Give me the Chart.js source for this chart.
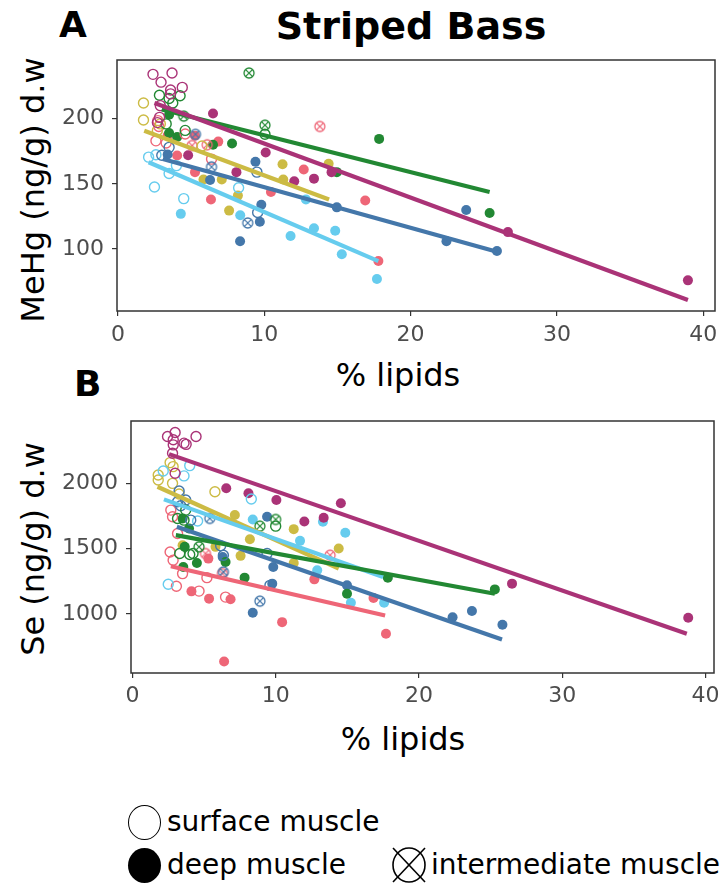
<!DOCTYPE html>
<html><head><meta charset="utf-8">
<script src="https://cdn.jsdelivr.net/npm/chart.js@4/dist/chart.umd.min.js"></script>
<style>
html,body{margin:0;padding:0;background:#fff;}
body{width:724px;height:886px;position:relative;overflow:hidden;font-family:"DejaVu Sans",Verdana,sans-serif;}
.t{position:absolute;white-space:nowrap;color:#000;line-height:1;}
.c{transform:translate(-50%,-50%);}
.r{transform:translate(-50%,-50%) rotate(-90deg);}
canvas{position:absolute;left:0;}
</style></head><body>

<div class="t" style="left:211px;width:400px;text-align:center;top:7px;font-size:38px;font-weight:bold;">Striped Bass</div>
<div class="t" style="left:59px;top:7px;font-size:36px;font-weight:bold;">A</div>
<div class="t" style="left:74px;top:366px;font-size:36px;font-weight:bold;">B</div>

<div class="t r" style="left:33px;top:190px;font-size:32px;">MeHg (ng/g) d.w</div>
<div class="t c" style="left:398px;top:375px;font-size:32px;">% lipids</div>
<div class="t r" style="left:33px;top:549px;font-size:32px;">Se (ng/g) d.w</div>
<div class="t c" style="left:403px;top:739px;font-size:32px;">% lipids</div>

<canvas id="chartA" width="724" height="300" style="top:50px;"></canvas>
<canvas id="chartB" width="724" height="300" style="top:410px;"></canvas>

<!-- legend -->
<div style="position:absolute;left:128px;top:805px;width:33px;height:35px;border:1.6px solid #000;border-radius:50%;box-sizing:border-box;"></div>
<div class="t" style="left:167px;top:822px;transform:translateY(-50%);font-size:28px;">surface muscle</div>
<div style="position:absolute;left:128px;top:848px;width:33px;height:35px;background:#000;border-radius:50%;"></div>
<div class="t" style="left:167px;top:865px;transform:translateY(-50%);font-size:28px;">deep muscle</div>
<svg style="position:absolute;left:389px;top:846px;" width="40" height="38" viewBox="0 0 40 38">
  <ellipse cx="20" cy="19" rx="16" ry="17" fill="none" stroke="#000" stroke-width="1.6"/>
  <line x1="4" y1="2" x2="36" y2="36" stroke="#000" stroke-width="1.6"/>
  <line x1="36" y1="2" x2="4" y2="36" stroke="#000" stroke-width="1.6"/>
</svg>
<div class="t" style="left:431px;top:865px;transform:translateY(-50%);font-size:28px;">intermediate muscle</div>

<script>
// ---------------- DATA ----------------
const xTicks = [0, 10, 20, 30, 40];
const mehgTicks = [100, 150, 200];
const seTicks = [1000, 1500, 2000];

// Panel A: MeHg (ng/g d.w) vs % lipids  — [lipids, value]
const mehgPurpleSurface = [[2.4,234],[3.7,235],[2.95,228],[4.4,224],[3.6,222],[3.6,219],[2.9,210],[2.85,201],[2.7,197]];
const mehgPurpleDeep = [[6.5,204],[10.1,174],[8.1,159],[12.05,152],[13.4,154],[14.6,159],[4.8,172],[26.65,113],[38.95,76]];
const mehgPurpleInter = [];
const mehgGreenSurface = [[2.84,218],[3.5,215.5],[4.25,217.6],[3.75,212],[3.3,196],[4.6,191],[10.05,188]];
const mehgGreenDeep = [[3.5,203],[3.5,189],[4.05,186],[6.5,180],[7.8,181],[14.96,159],[17.85,184.5],[25.4,127.7]];
const mehgGreenInter = [[4.5,202],[8.96,235],[10.05,195]];
const mehgBlueSurface = [[9.5,159],[9.55,128],[3.5,178],[3.0,172]];
const mehgBlueDeep = [[3.4,172.5],[9.4,167],[6.3,153],[9.8,134],[9.7,121],[8.35,106],[14.96,132],[23.8,130],[22.45,106],[25.9,98.5]];
const mehgBlueInter = [[5.3,188],[6.4,163],[8.87,120]];
const mehgCyanSurface = [[2.1,170.5],[2.6,172.3],[2.5,147.6],[4.5,138.7],[3.5,158],[4.0,164],[8.25,147]];
const mehgCyanDeep = [[4.3,127],[8.36,126],[11.8,110],[13.4,116],[14.85,114],[15.3,96],[17.7,77],[12.85,138]];
const mehgCyanInter = [];
const mehgYellowSurface = [[1.75,212],[1.75,199],[2.7,191],[2.9,196],[5.75,179]];
const mehgYellowDeep = [[11.25,165],[11.3,153.4],[14.4,165.4],[7.1,153.4],[5.85,153.4],[7.6,129.5],[8.2,141]];
const mehgYellowInter = [];
const mehgRedSurface = [[2.6,183],[2.73,198.5],[2.8,194],[3.3,181.4],[4.6,188.3],[6.4,169]];
const mehgRedDeep = [[5.27,187],[6.86,182.4],[4.05,171.8],[5.27,159],[12.7,161],[10.46,143.7],[6.36,138],[16.9,137.2],[17.8,90.8],[3.4,187]];
const mehgRedInter = [[5.07,179.4],[6.1,180],[13.8,194]];

// Panel A fitted lines (end points)
const mehgFitPurple = [[2.5,212],[38.95,61]];
const mehgFitGreen = [[3.0,207],[25.4,143.7]];
const mehgFitBlue = [[3.07,169],[25.9,98]];
const mehgFitCyan = [[2.1,166.6],[17.8,90.8]];
const mehgFitYellow = [[1.8,190.8],[14.43,138]];

// Panel B: Se (ng/g d.w) vs % lipids
const sePurpleSurface = [[2.45,2360],[2.98,2391],[2.85,2335],[3.6,2309],[3.75,2300],[4.44,2360],[2.85,2296],[2.8,2232],[2.98,2078]];
const sePurpleDeep = [[6.55,1963],[8.1,1925],[10.05,1873],[14.55,1848],[12.0,1709],[13.35,1737],[26.5,1232],[38.8,971]];
const sePurpleInter = [];
const seYellowSurface = [[1.8,2065],[1.8,2027],[2.63,2160],[2.84,2129],[2.8,2001],[3.26,1919],[5.76,1937]];
const seYellowDeep = [[7.15,1758],[11.26,1650],[8.2,1573],[14.4,1501],[7.55,1445],[11.26,1391],[3.5,1527],[5.8,1514]];
const seYellowInter = [];
const seCyanSurface = [[2.15,2096],[4.0,2137],[3.6,2058],[8.3,1881],[4.55,1712],[2.5,1227]];
const seCyanDeep = [[8.4,1724],[11.7,1560],[13.3,1706],[14.86,1622],[12.9,1335],[15.25,1086],[17.57,1086]];
const seCyanInter = [];
const seBlueSurface = [[3.26,1942],[3.15,1860],[3.72,1873],[3.37,1829],[4.07,1719],[6.16,1522],[6.35,1450],[9.4,1463],[9.6,1219]];
const seBlueDeep = [[9.4,1745],[6.3,1437],[9.83,1360],[9.76,1232],[8.4,1009],[14.98,1219],[22.35,975],[23.7,1022],[25.83,917]];
const seBlueInter = [[5.4,1732],[6.35,1322],[8.9,1098]];
const seGreenSurface = [[3.72,1796],[3.15,1732],[3.6,1719],[3.3,1463],[4.0,1455],[10.0,1673],[4.23,1463]];
const seGreenDeep = [[3.5,1732],[3.95,1655],[3.65,1514],[3.55,1360],[4.5,1391],[6.5,1398],[7.83,1278],[14.98,1155],[17.83,1278],[25.3,1188]];
const seGreenInter = [[8.9,1673],[10.0,1724],[4.65,1514]];
const seRedSurface = [[2.63,1475],[2.84,1412],[3.5,1309],[3.07,1212],[4.65,1175],[5.2,1278],[6.5,1129],[2.68,1796],[2.8,1745],[3.15,1617]];
const seRedDeep = [[5.3,1424],[4.12,1173],[5.35,1117],[6.85,1112],[10.45,937],[6.4,635],[12.7,1265],[16.83,1122],[17.7,848]];
const seRedInter = [[5.1,1463],[6.28,1309],[13.8,1450]];

// Panel B fitted lines
const seFitPurple = [[2.56,2225],[38.7,848]];
const seFitYellow = [[1.75,1975],[14.4,1348]];
const seFitCyan = [[2.2,1878],[17.5,1283]];
const seFitBlue = [[3.1,1668],[25.8,804]];
const seFitGreen = [[3.03,1604],[25.3,1155]];
const seFitRed = [[2.68,1365],[17.64,988]];

// ---------------- STYLE ----------------
const COL = {purple:'#AA3377', green:'#228833', blue:'#4477AA', cyan:'#66CCEE', yellow:'#CCBB44', red:'#EE6677'};
const R = 5;

function makeCross(color){
  const lw = 1.3, s = 2*R + 4;
  const c = document.createElement('canvas');
  c.width = s; c.height = s;
  const g = c.getContext('2d');
  g.strokeStyle = color; g.lineWidth = lw;
  const m = s/2;
  g.beginPath(); g.arc(m, m, R, 0, Math.PI*2); g.stroke();
  const d = R*0.72;
  g.beginPath(); g.moveTo(m-d,m-d); g.lineTo(m+d,m+d); g.moveTo(m+d,m-d); g.lineTo(m-d,m+d); g.stroke();
  return c;
}
const pts = a => a.map(p => ({x:p[0], y:p[1]}));

function pointSets(color, surface, deep, inter){
  const out = [];
  out.push({type:'scatter', data:pts(deep), pointStyle:'circle', pointRadius:R, pointBackgroundColor:color, pointBorderColor:color, pointBorderWidth:0, order:3});
  out.push({type:'scatter', data:pts(surface), pointStyle:'circle', pointRadius:R, pointBackgroundColor:'rgba(0,0,0,0)', pointBorderColor:color, pointBorderWidth:1.4, order:2});
  if (inter.length) out.push({type:'scatter', data:pts(inter), pointStyle:makeCross(color), pointRadius:R, order:2});
  return out;
}
function fitSet(color, fit){
  return {type:'line', data:pts(fit), borderColor:color, borderWidth:4.2, pointRadius:0, fill:false, order:0, borderCapStyle:'butt'};
}

const frame = {id:'frame', afterDatasetsDraw(chart){
  const {ctx, chartArea:a} = chart;
  ctx.save(); ctx.strokeStyle='#333'; ctx.lineWidth=1.5;
  ctx.strokeRect(a.left, a.top, a.right-a.left, a.bottom-a.top);
  ctx.restore();
}};

function axisCfg(min, max, ticks, isX, size, pad){
  return {
    type:'linear', min:min, max:max, position: isX ? 'bottom' : 'left',
    afterBuildTicks: s => { s.ticks = ticks.map(v => ({value:v})); },
    afterFit: s => {
      if (isX) { s.height = size; s.paddingLeft = 0; s.paddingRight = 0; }
      else { s.width = size; s.paddingTop = 0; s.paddingBottom = 0; }
    },
    ticks:{color:'#4D4D4D', font:{family:'"DejaVu Sans", Verdana, sans-serif', size:22}, padding:pad, autoSkip:false, maxRotation:0,
           callback: v => String(v)},
    grid:{drawOnChartArea:false, drawTicks:true, tickLength:5, color:'#333', lineWidth:1.2},
    border:{display:false}
  };
}

function build(id, datasets, xr, yr, yTicks, pad){
  new Chart(document.getElementById(id), {
    type:'scatter',
    data:{datasets:datasets},
    options:{
      responsive:false, animation:false, devicePixelRatio:1,
      layout:{padding:pad.layout},
      plugins:{legend:{display:false}, tooltip:{enabled:false}},
      scales:{
        x: axisCfg(xr[0], xr[1], xTicks, true, pad.xh, pad.xp),
        y: axisCfg(yr[0], yr[1], yTicks, false, pad.yw, 8)
      }
    },
    plugins:[frame]
  });
}

const dsA = [
  fitSet(COL.yellow, mehgFitYellow), fitSet(COL.cyan, mehgFitCyan), fitSet(COL.blue, mehgFitBlue),
  fitSet(COL.purple, mehgFitPurple), fitSet(COL.green, mehgFitGreen),
  ...pointSets(COL.purple, mehgPurpleSurface, mehgPurpleDeep, mehgPurpleInter),
  ...pointSets(COL.green, mehgGreenSurface, mehgGreenDeep, mehgGreenInter),
  ...pointSets(COL.blue, mehgBlueSurface, mehgBlueDeep, mehgBlueInter),
  ...pointSets(COL.cyan, mehgCyanSurface, mehgCyanDeep, mehgCyanInter),
  ...pointSets(COL.yellow, mehgYellowSurface, mehgYellowDeep, mehgYellowInter),
  ...pointSets(COL.red, mehgRedSurface, mehgRedDeep, mehgRedInter)
];
const dsB = [
  fitSet(COL.red, seFitRed), fitSet(COL.green, seFitGreen), fitSet(COL.blue, seFitBlue),
  fitSet(COL.cyan, seFitCyan), fitSet(COL.yellow, seFitYellow), fitSet(COL.purple, seFitPurple),
  ...pointSets(COL.purple, sePurpleSurface, sePurpleDeep, sePurpleInter),
  ...pointSets(COL.green, seGreenSurface, seGreenDeep, seGreenInter),
  ...pointSets(COL.blue, seBlueSurface, seBlueDeep, seBlueInter),
  ...pointSets(COL.cyan, seCyanSurface, seCyanDeep, seCyanInter),
  ...pointSets(COL.yellow, seYellowSurface, seYellowDeep, seYellowInter),
  ...pointSets(COL.red, seRedSurface, seRedDeep, seRedInter)
];

build('chartA', dsA, [-0.06, 40.8], [52.5, 245], mehgTicks, {layout:{top:10, right:9, left:0, bottom:0}, xh:39, xp:6, yw:117});
build('chartB', dsB, [-0.1, 40.6], [547, 2479], seTicks, {layout:{top:11, right:10, left:0, bottom:0}, xh:37, xp:5, yw:131});
</script>
</body></html>
